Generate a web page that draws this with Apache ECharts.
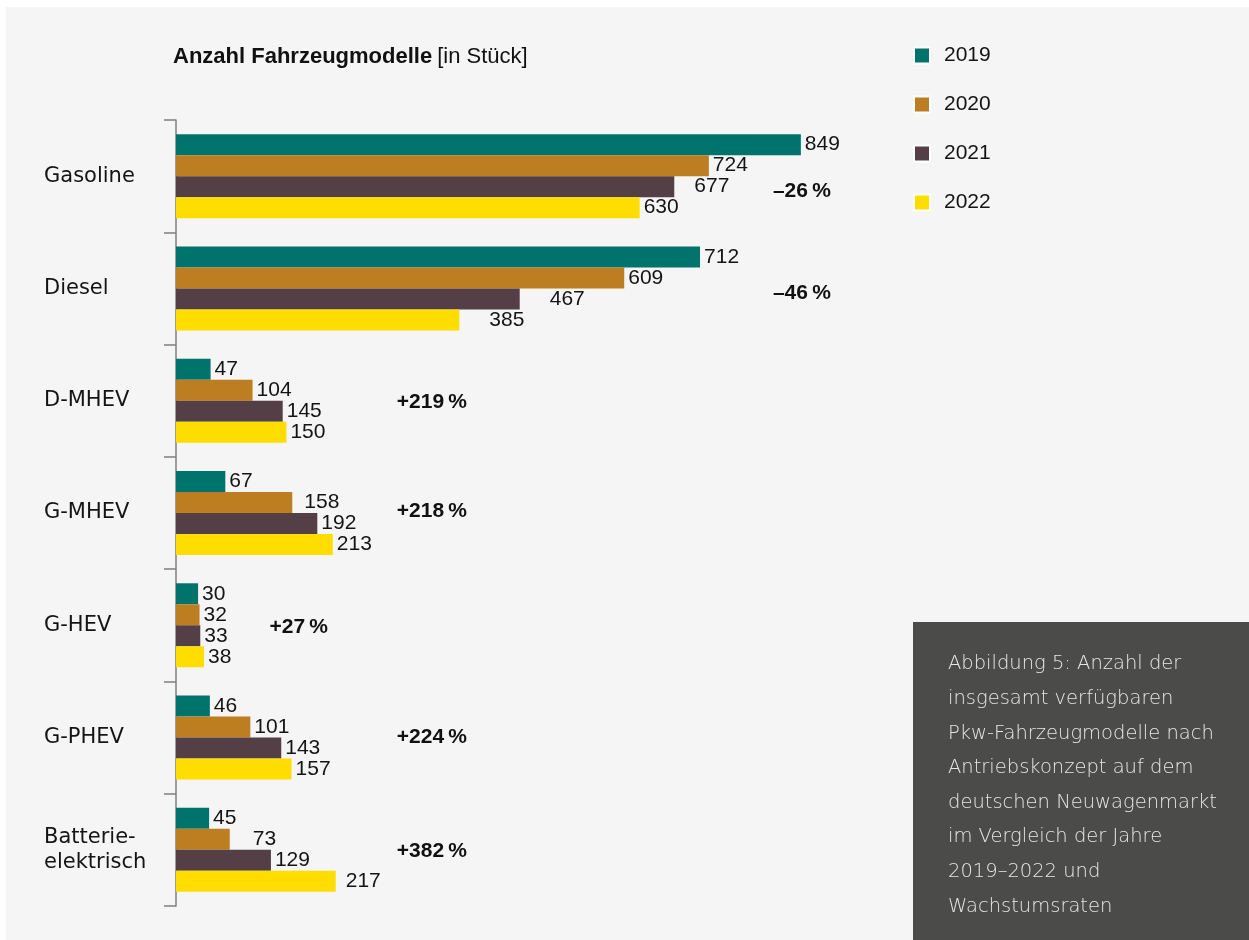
<!DOCTYPE html>
<html>
<head>
<meta charset="utf-8">
<script src="https://cdn.jsdelivr.net/npm/echarts@6/dist/echarts.min.js"></script>
<style>
  html, body { margin: 0; padding: 0; background: #ffffff; }
  #chart { width: 1249px; height: 940px; }
</style>
</head>
<body>
<div id="chart"></div>
<script>
// Drive concepts (top to bottom) and model counts per year
const categories = ['Gasoline', 'Diesel', 'D-MHEV', 'G-MHEV', 'G-HEV', 'G-PHEV', 'Batterie-\nelektrisch'];
const years = ['2019', '2020', '2021', '2022'];
const models2019 = [849, 712, 47, 67, 30, 46, 45];
const models2020 = [724, 609, 104, 158, 32, 101, 73];
const models2021 = [677, 467, 145, 192, 33, 143, 129];
const models2022 = [630, 385, 150, 213, 38, 157, 217];
// Growth 2019 -> 2022 as printed next to each group
const growth = ['–26', '–46', '+219', '+218', '+27', '+224', '+382'];

const seriesValues = [models2019, models2020, models2021, models2022];
const colors = ['#00736c', '#bd7d21', '#553f46', '#ffdd00'];

// Layout helpers: where the growth notes sit (value-axis units) and
// small nudges for value labels that would otherwise crowd each other
const growthAnchor = [811, 811, 300, 300, 127, 300, 300];
const growthDy = [15, 5, 1, -2, 2, 0, 1];
const labelShift = [
  {},
  { 3: 8, 6: 19 },
  { 0: 16, 1: 26 },
  { 1: 26, 6: 6 }
];

const FONT = 'Liberation Sans, Arial, sans-serif';

const barSeries = years.map((y, si) => ({
  name: y,
  type: 'bar',
  barWidth: 21,
  barGap: '0%',
  itemStyle: { color: colors[si] },
  label: {
    show: true,
    position: 'right',
    distance: 4,
    color: '#141414',
    fontFamily: FONT,
    fontSize: 21
  },
  data: seriesValues[si].map((v, ci) => {
    const shift = labelShift[si][ci];
    return shift ? { value: v, label: { offset: [shift, 0] } } : v;
  })
}));

const growthSeries = {
  name: 'growth',
  type: 'scatter',
  symbolSize: 0,
  silent: true,
  itemStyle: { opacity: 1 },
  label: {
    show: true,
    position: 'right',
    distance: 0,
    color: '#111111',
    formatter: p => '{n|' + growth[p.dataIndex] + '}{p|\u2009%}',
    rich: {
      n: { fontFamily: FONT, fontWeight: 'bold', fontSize: 21, color: '#111111' },
      p: { fontFamily: FONT, fontWeight: 'bold', fontSize: 21, color: '#111111' }
    }
  },
  data: growth.map((g, i) => ({
    value: [growthAnchor[i], i],
    label: { offset: [0, growthDy[i]] }
  }))
};

const caption = [
  'Abbildung 5: Anzahl der',
  'insgesamt verfügbaren',
  'Pkw-Fahrzeugmodelle nach',
  'Antriebskonzept auf dem',
  'deutschen Neuwagenmarkt',
  'im Vergleich der Jahre',
  '2019–2022 und',
  'Wachstumsraten'
].join('\n');

const chart = echarts.init(document.getElementById('chart'), null, { renderer: 'canvas' });
chart.setOption({
  backgroundColor: '#ffffff',
  animation: false,
  title: {
    text: '{b|Anzahl Fahrzeugmodelle} {r|[in Stück]}',
    left: 173,
    top: 45,
    padding: 0,
    textStyle: {
      rich: {
        b: { fontFamily: FONT, fontWeight: 'bold', fontSize: 22, lineHeight: 24, color: '#111' },
        r: { fontFamily: FONT, fontWeight: 'normal', fontSize: 22, lineHeight: 24, color: '#111' }
      }
    }
  },
  legend: {
    data: years,
    orient: 'vertical',
    left: 913,
    top: 45,
    padding: 0,
    itemWidth: 16,
    itemHeight: 16,
    itemGap: 28,
    icon: 'rect',
    itemStyle: { borderColor: '#ffffff', borderWidth: 2 },
    textStyle: {
      fontFamily: FONT,
      fontSize: 21,
      lineHeight: 20,
      color: '#141414',
      padding: [0, 0, 0, 9]
    },
    selectedMode: false
  },
  grid: {
    left: 176,
    top: 120,
    bottom: 34,
    right: 337,
    containLabel: false
  },
  xAxis: {
    type: 'value',
    min: 0,
    max: 1000,
    show: false
  },
  yAxis: {
    type: 'category',
    data: categories,
    inverse: true,
    axisLine: { show: true, lineStyle: { color: '#7f7f7f', width: 1.5 } },
    axisTick: { show: true, length: 12, lineStyle: { color: '#7f7f7f', width: 1.5 } },
    axisLabel: {
      align: 'left',
      margin: 132,
      fontFamily: 'DejaVu Sans, sans-serif',
      fontSize: 21,
      lineHeight: 25,
      color: '#141414'
    },
    splitLine: { show: false }
  },
  series: [...barSeries, growthSeries],
  graphic: [
    {
      type: 'rect',
      z: -100,
      silent: true,
      shape: { x: 6, y: 7, width: 1243, height: 933 },
      style: { fill: '#f5f5f5' }
    },
    {
      type: 'rect',
      z: 10,
      silent: true,
      shape: { x: 913, y: 622, width: 336, height: 318 },
      style: { fill: '#4b4b49' }
    },
    {
      type: 'text',
      z: 11,
      silent: true,
      left: 948,
      top: 647,
      style: {
        text: caption,
        fill: '#e6e6e6',
        fontFamily: 'DejaVu Sans, sans-serif',
        fontWeight: 200,
        fontSize: 19.5,
        lineHeight: 34.6
      }
    }
  ]
});
</script>
</body>
</html>
